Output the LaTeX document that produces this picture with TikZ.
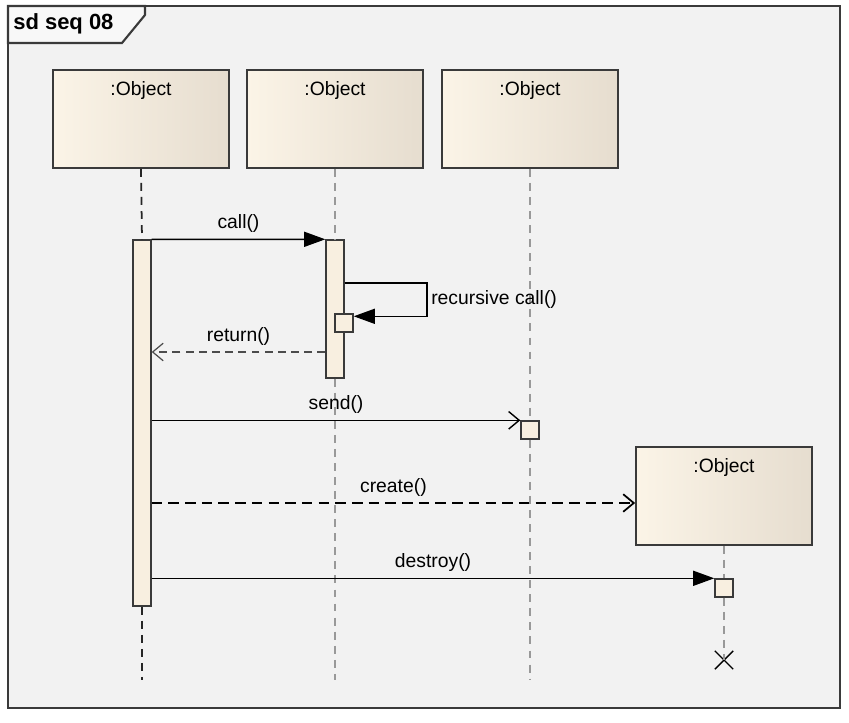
\documentclass[tikz,border=0pt]{standalone}
\usepackage{fontspec}
\setmainfont{Liberation Sans}
\usetikzlibrary{arrows.meta,shapes.misc}

\definecolor{framebg}{HTML}{F2F2F2}
\definecolor{tagbg}{HTML}{F8F8F8}
\definecolor{objlight}{HTML}{FBF4E7}
\definecolor{objdark}{HTML}{E6DDCF}
\definecolor{barfill}{HTML}{F8EFE0}
\definecolor{edge}{HTML}{3A3A3A}

\tikzset{
  every node/.style={font=\fontsize{11}{13}\selectfont},
  objbox/.style={draw=edge, line width=1pt, left color=objlight,
    right color=objdark, minimum width=3.52cm, minimum height=1.96cm,
    inner sep=0pt},
  objname/.style={anchor=north, inner sep=0pt},
  actbar/.style={draw=edge, line width=0.8pt, fill=barfill,
    minimum width=0.36cm, inner sep=0pt},
  lifeline/.style={draw=gray!80, line width=0.6pt,
    dash pattern=on 4.5pt off 3.5pt},
  mainline/.style={draw=black!85, line width=1pt,
    dash pattern=on 4.5pt off 3.5pt},
  sync/.style={line width=0.9pt, -{Triangle[length=12pt,width=8.5pt]}},
  async/.style={line width=0.8pt, -{Straight Barb[length=6pt,width=10pt]}},
  reply/.style={draw=black!70, line width=0.7pt,
    dash pattern=on 4.5pt off 3pt, -{Straight Barb[length=6pt,width=10pt]}},
  newmsg/.style={line width=1pt, dash pattern=on 6pt off 3.5pt,
    -{Straight Barb[length=6pt,width=10pt]}}
}

\begin{document}
\begin{tikzpicture}[x=0.02cm,y=-0.02cm]

\useasboundingbox (0,0) rectangle (849,723);

% Cadre
\draw[draw=edge, line width=1.2pt, fill=framebg]
(8,6)
rectangle
(840,708);

\draw[draw=edge, line width=1.2pt, fill=tagbg]
(8,6) -- (145,6) -- (145,15) -- (122,43) -- (8,43) -- cycle;

\node[anchor=west, inner sep=0pt, font=\bfseries\fontsize{12.5}{14}\selectfont]
(tag) at (13,24)
{sd seq 08};

% Objets
\node[objbox] (o1) at (141,119) {};
\node[objbox] (o2) at (335,119) {};
\node[objbox] (o3) at (530,119) {};
\node[objbox] (o4) at (724,496) {};

\node[objname] (o1t) at ([yshift=-0.24cm]o1.north) {:Object};
\node[objname] (o2t) at ([yshift=-0.24cm]o2.north) {:Object};
\node[objname] (o3t) at ([yshift=-0.24cm]o3.north) {:Object};
\node[objname] (o4t) at ([yshift=-0.24cm]o4.north) {:Object};

% Activations
\node[actbar, minimum height=7.32cm] (a1) at (142,423) {};
\node[actbar, minimum height=2.76cm] (a2) at (335,309) {};
\node[actbar, minimum height=0.36cm] (r2) at (344,323) {};
\node[actbar, minimum height=0.36cm] (a3) at (530,430) {};
\node[actbar, minimum height=0.36cm] (a4) at (724,588) {};

% Fin de vie
\node[cross out, draw, line width=0.8pt, minimum size=0.34cm,
  inner sep=0pt] (x4) at (724,660) {};

\coordinate (end1) at (142,680);
\coordinate (end2) at (335,680);
\coordinate (end3) at (530,680);
\coordinate (rloop) at (427,283);

% Lignes de vie
\draw[mainline] (o1.south) -- (a1.north);
\draw[mainline] (a1.south) -- (end1);
\draw[lifeline] (o2.south) -- (a2.north);
\draw[lifeline] (a2.south) -- (end2);
\draw[lifeline] (o3.south) -- (a3.north);
\draw[lifeline] (a3.south) -- (end3);
\draw[lifeline] (o4.south) -- (a4.north);
\draw[lifeline] (a4.south) -- (x4.center);

% Messages
\draw[sync]
(a1.north east)
--
node[above] {call()}
(a2.north west);

\draw[sync]
(a2.east |- rloop)
--
(rloop)
|-
node[pos=0.25, right, inner sep=2pt] {recursive call()}
([yshift=-0.06cm]r2.north east);

\draw[reply]
(a2.west |- 0,352)
--
node[above] {return()}
(a1.east |- 0,352);

\draw[async]
(a1.east |- a3.north)
--
node[above] {send()}
(a3.north west);

\draw[newmsg]
(a1.east |- 0,503)
--
node[above] {create()}
(o4.west |- 0,503);

\draw[sync]
(a1.east |- a4.north)
--
node[above] {destroy()}
(a4.north west);

\end{tikzpicture}
\end{document}
